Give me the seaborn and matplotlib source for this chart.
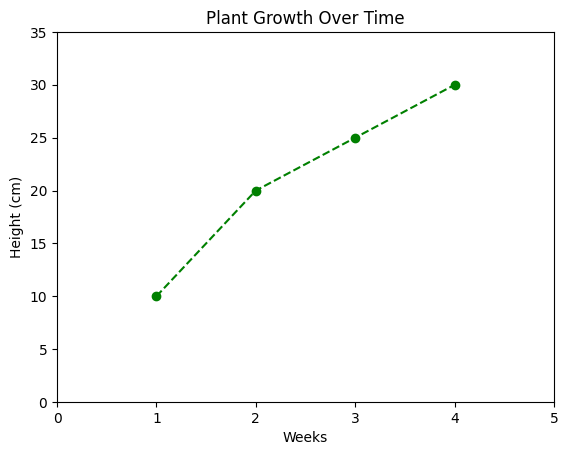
import seaborn as sns
import matplotlib
matplotlib.use("Agg")
import matplotlib.pyplot as plt
import pandas as pd

weeks = [1, 2, 3, 4]
height_cm = [10, 20, 25, 30]

df = pd.DataFrame({"Weeks": weeks, "Height (cm)": height_cm})

fig = plt.figure(figsize=(5.67, 4.55), dpi=100)
ax = fig.add_axes([57 / 567, 1 - 402 / 455, (554 - 57) / 567, (402 - 32) / 455])

sns.lineplot(data=df, x="Weeks", y="Height (cm)", ax=ax, color="green",
             linestyle="--", marker="o", markersize=6,
             markeredgecolor="green", markeredgewidth=1)

ax.set_xlim(0, 5)
ax.set_ylim(0, 35)
ax.set_title("Plant Growth Over Time")
ax.set_xlabel("Weeks")
ax.set_ylabel("Height (cm)")

fig.savefig("out.png", dpi=100)
